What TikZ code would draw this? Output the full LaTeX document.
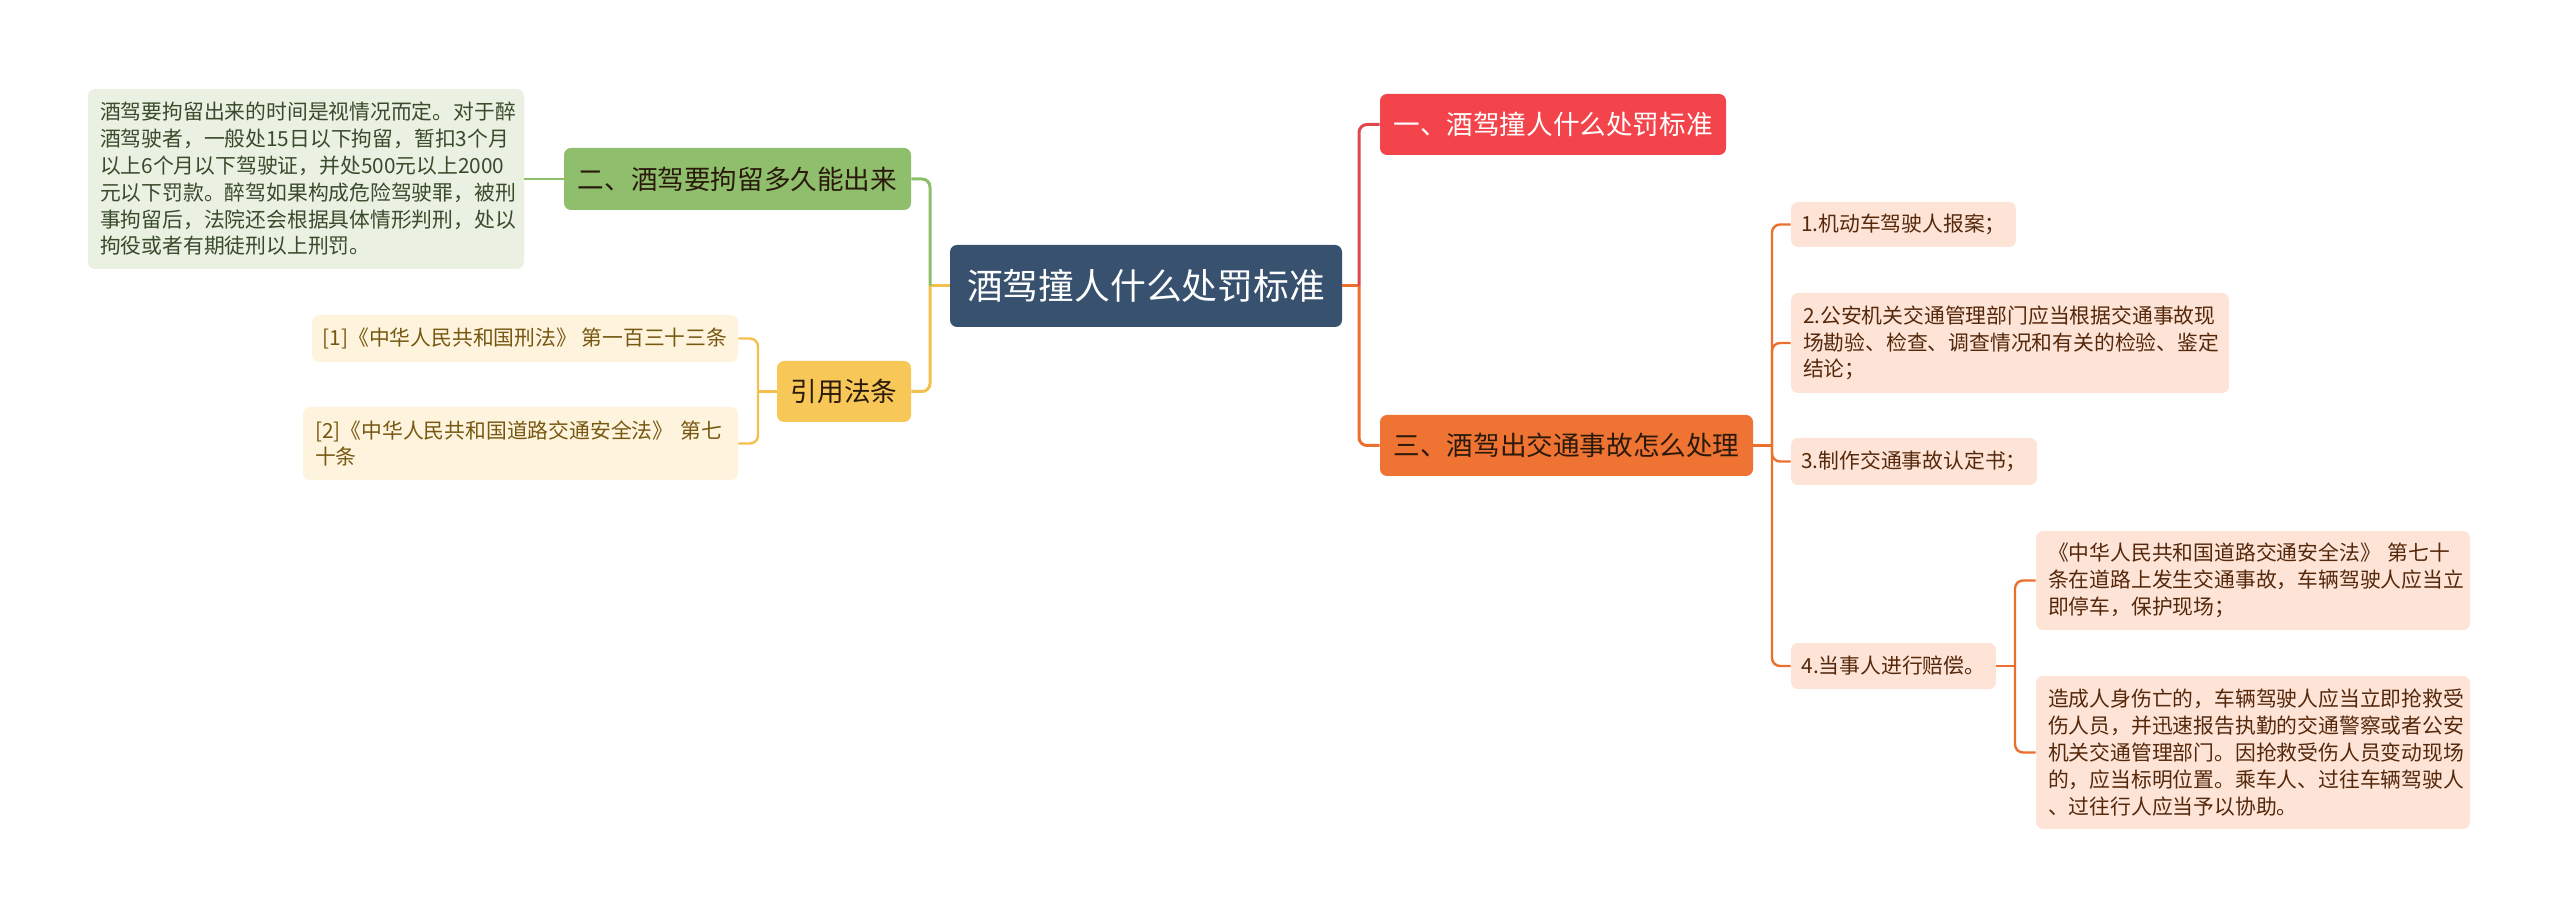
\documentclass[tikz,border=0pt]{standalone}
\usepackage{fontspec}
\setmainfont{Noto Sans CJK SC}
\definecolor{cCenter}{HTML}{37516F}
\definecolor{cRed}{HTML}{F4444B}
\definecolor{cRedLine}{HTML}{E0474C}
\definecolor{cOrange}{HTML}{EF7332}
\definecolor{cOrangeLine}{HTML}{EC6F2D}
\definecolor{cLeaf}{HTML}{FDE4D6}
\definecolor{cLeafText}{HTML}{55280C}
\definecolor{cGreen}{HTML}{8FBF6C}
\definecolor{cGreenLine}{HTML}{8DBE6A}
\definecolor{cGreenLight}{HTML}{EAF1E2}
\definecolor{cGreenText}{HTML}{3A4A2C}
\definecolor{cYellow}{HTML}{F7C758}
\definecolor{cYellowLine}{HTML}{F4C04C}
\definecolor{cYellowLight}{HTML}{FEF3DC}
\definecolor{cYellowText}{HTML}{765812}
\definecolor{cDark}{HTML}{2B1A0C}
\begin{document}
\begin{tikzpicture}[x=0.5pt,y=-0.5pt,
  box/.style={rounded corners=3.5pt, inner ysep=0pt, anchor=center},
  single/.style={box, align=center, inner xsep=0pt},
  multi/.style={box, align=left, inner xsep=6pt},
  small/.style={font=\fontsize{10.4}{13.4}\selectfont},
  big/.style={font=\fontsize{13.3}{16}\selectfont},
  mainline/.style={line width=1.5pt, rounded corners=4pt},
  subline/.style={line width=1.2pt, rounded corners=4pt},
]
\useasboundingbox (0,0) rectangle (2560,919);

% central
\node[single, fill=cCenter, text=white, font=\fontsize{17.9}{21}\selectfont,
  minimum width=196pt, minimum height=41pt] (C) at (1146,286) {酒驾撞人什么处罚标准};

% right branches
\node[single, big, fill=cRed, text=white, minimum width=173pt, minimum height=30.5pt] (N1) at (1553,124.5) {一、酒驾撞人什么处罚标准};
\node[single, big, fill=cOrange, text=cDark, minimum width=186.5pt, minimum height=30.5pt] (N3) at (1566.5,445.5) {三、酒驾出交通事故怎么处理};

% leaves of N3
\node[single, small, fill=cLeaf, text=cLeafText, minimum width=112.5pt, minimum height=22.5pt] (L1) at (1903.5,224.5) {1.机动车驾驶人报案；};
\node[multi, small, fill=cLeaf, text=cLeafText, text width=207pt, minimum height=50pt] (L2) at (2010,343) {2.公安机关交通管理部门应当根据交通事故现\\场勘验、检查、调查情况和有关的检验、鉴定\\结论；};
\node[single, small, fill=cLeaf, text=cLeafText, minimum width=123pt, minimum height=23.5pt] (L3) at (1914,461.5) {3.制作交通事故认定书；};
\node[single, small, fill=cLeaf, text=cLeafText, minimum width=102.5pt, minimum height=23pt] (L4) at (1893.5,666) {4.当事人进行赔偿。};

\node[multi, small, fill=cLeaf, text=cLeafText, text width=205pt, minimum height=49.5pt] (SA) at (2253,580.5) {《中华人民共和国道路交通安全法》 第七十\\条在道路上发生交通事故，车辆驾驶人应当立\\即停车，保护现场；};
\node[multi, small, fill=cLeaf, text=cLeafText, text width=205pt, minimum height=76.5pt] (SB) at (2253,752.5) {造成人身伤亡的，车辆驾驶人应当立即抢救受\\伤人员，并迅速报告执勤的交通警察或者公安\\机关交通管理部门。因抢救受伤人员变动现场\\的，应当标明位置。乘车人、过往车辆驾驶人\\、过往行人应当予以协助。};

% left branches
\node[single, big, fill=cGreen, text=cDark, minimum width=173.5pt, minimum height=31pt] (N2) at (737.5,179) {二、酒驾要拘留多久能出来};
\node[multi, small, fill=cGreenLight, text=cGreenText, text width=206pt, minimum height=90pt] (T) at (306,179) {酒驾要拘留出来的时间是视情况而定。对于醉\\酒驾驶者，一般处15日以下拘留，暂扣3个月\\以上6个月以下驾驶证，并处500元以上2000\\元以下罚款。醉驾如果构成危险驾驶罪，被刑\\事拘留后，法院还会根据具体情形判刑，处以\\拘役或者有期徒刑以上刑罚。};

\node[single, big, fill=cYellow, text=cDark, minimum width=67pt, minimum height=30.5pt] (NR) at (844,391.5) {引用法条};
\node[single, small, fill=cYellowLight, text=cYellowText, minimum width=213pt, minimum height=23.5pt] (R1) at (525,338.5) {[1]《中华人民共和国刑法》 第一百三十三条};
\node[multi, small, fill=cYellowLight, text=cYellowText, text width=205.5pt, minimum height=36.5pt] (R2) at (520.5,443.5) {[2]《中华人民共和国道路交通安全法》 第七\\十条};

% junction coordinates
\coordinate (JR) at (1359,286);
\coordinate (JL) at (930,286);
\coordinate (J3) at (1772,445.5);
\coordinate (J4) at (2015,666);
\coordinate (JY) at (758,391.5);

% connectors right
\draw[mainline, cOrangeLine] (C.east) -- (JR);
\draw[mainline, cRedLine] (JR) |- (N1.west);
\draw[mainline, cOrangeLine] (JR) |- (N3.west);

\draw[subline, cOrangeLine] (N3.east) -- (J3);
\draw[subline, cOrangeLine] (J3) |- (L1.west);
\draw[subline, cOrangeLine] (J3) |- (L2.west);
\draw[subline, cOrangeLine] (J3) |- (L3.west);
\draw[subline, cOrangeLine] (J3) |- (L4.west);

\draw[subline, cOrangeLine] (L4.east) -- (J4);
\draw[subline, cOrangeLine] (J4) |- (SA.west);
\draw[subline, cOrangeLine] (J4) |- (SB.west);

% connectors left
\draw[mainline, cYellowLine] (C.west) -- (JL);
\draw[mainline, cGreenLine] (JL) |- (N2.east);
\draw[mainline, cYellowLine] (JL) |- (NR.east);

\draw[subline, cGreenLine] (N2.west) -- (T.east);

\draw[subline, cYellowLine] (NR.west) -- (JY);
\draw[subline, cYellowLine] (JY) |- (R1.east);
\draw[subline, cYellowLine] (JY) |- (R2.east);
\end{tikzpicture}
\end{document}
